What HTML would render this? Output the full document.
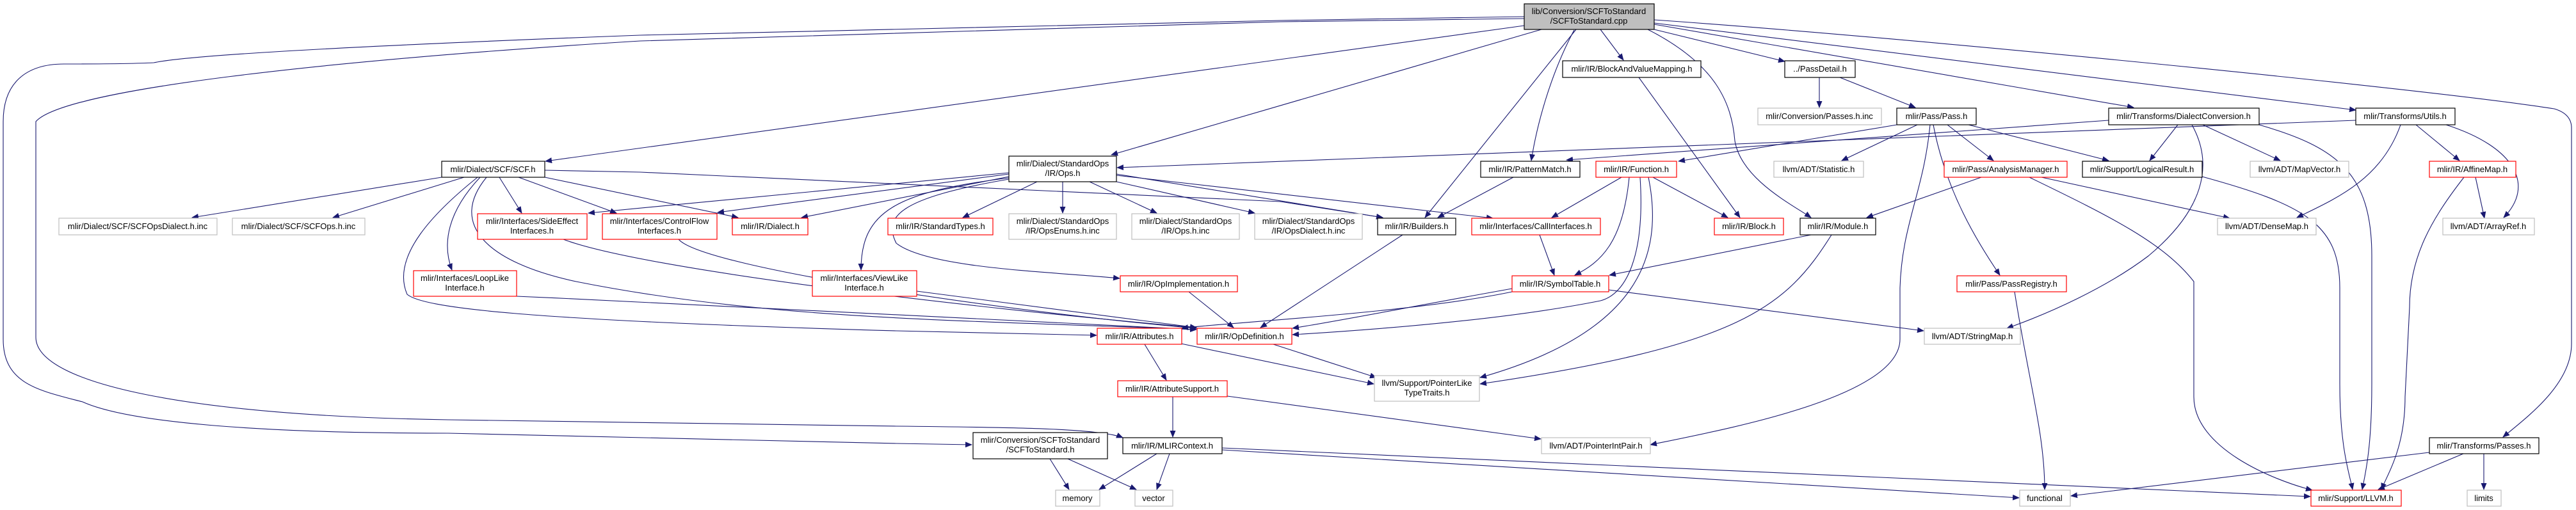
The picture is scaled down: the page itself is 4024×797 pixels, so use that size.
<!DOCTYPE html>
<html><head><meta charset="utf-8">
<style>
html,body{margin:0;padding:0;background:#fff;}
svg{display:block;}
text{font-family:"Liberation Sans",sans-serif;font-size:13px;fill:#000;}
.b{fill:#fff;stroke:#000;stroke-width:1.2;}
.r{fill:#fff;stroke:#ff0000;stroke-width:1.2;}
.g{fill:#fff;stroke:#bfbfbf;stroke-width:1.2;}
.rt{fill:#bfbfbf;stroke:#000;stroke-width:1.2;}
.e{fill:none;stroke:#191970;stroke-width:1.1;marker-end:url(#a);}
</style></head><body>
<svg width="4024" height="797" viewBox="0 0 4024 797" xmlns="http://www.w3.org/2000/svg">
<defs><marker id="a" markerUnits="userSpaceOnUse" markerWidth="12" markerHeight="9" refX="10" refY="4.5" orient="auto"><path d="M0,0 L11,4.5 L0,9 z" fill="#191970"/></marker></defs>

<!-- edges -->
<g>
<path class="e" d="M2381,40 L852,252"/>
<path class="e" d="M2408,46 L1736,242"/>
<path class="e" d="M2381,26 L2000,32 L1000,55 C600,70 300,85 240,98 C200,100 120,100 100,100 C40,100 5,130 5,190 L5,530 C5,600 60,610 129,628 C200,660 400,677 700,677 L1400,693 L1518,695"/>
<path class="e" d="M2381,29 L2000,34 L1000,64 C500,95 100,140 56,190 L56,527 C56,600 300,650 700,656 L1400,666 C1600,668 1720,670 1754,684"/>
<path class="e" d="M2462,46 L2226,340"/>
<path class="e" d="M2459,47 C2420,120 2400,200 2392,251"/>
<path class="e" d="M2500,46 L2536,94"/>
<path class="e" d="M2574,46 C2680,100 2705,160 2710,220 C2720,280 2800,320 2829,340"/>
<path class="e" d="M2584,46 L2788,96"/>
<path class="e" d="M2584,38 L3333,168"/>
<path class="e" d="M2584,36 L3680,172"/>
<path class="e" d="M2584,31 C3000,60 3800,140 3990,170 Q4017,178 4017,200 L4017,537 C4017,600 3950,650 3910,683"/>

<path class="e" d="M2191,367 L1969,512"/>
<path class="e" d="M2364,277 L2246,340"/>
<path class="e" d="M2560,121 L2718,340"/>
<path class="e" d="M2842,121 L2842,168"/>
<path class="e" d="M2874,121 L2992,168"/>
<path class="e" d="M2963,195 L2622,252"/>
<path class="e" d="M2995,195 L2877,251"/>
<path class="e" d="M3042,195 L3114,251"/>
<path class="e" d="M3075,195 L3294,251"/>
<path class="e" d="M3020,195 C3040,300 3090,380 3124,430"/>
<path class="e" d="M3015,195 C3005,300 2971,350 2968,450 L2968,530 C2968,620 2700,670 2578,695"/>
<path class="e" d="M3294,188 L2447,250"/>
<path class="e" d="M3680,188 L1745,262"/>
<path class="e" d="M3402,195 L3358,251"/>
<path class="e" d="M3441,195 L3562,251"/>
<path class="e" d="M3424,195 C3460,260 3440,330 3356,400 C3290,450 3200,490 3135,513"/>
<path class="e" d="M3529,195 C3650,230 3705,270 3705,400 L3705,600 C3705,700 3695,740 3690,765"/>
<path class="e" d="M3440,276 C3600,320 3655,350 3655,450 L3655,600 C3655,700 3670,740 3675,765"/>
<path class="e" d="M3170,277 C3300,340 3380,380 3427,440 L3427,620 C3427,700 3550,750 3612,766"/>
<path class="e" d="M3095,277 L2916,340"/>
<path class="e" d="M3189,277 L3483,341"/>
<path class="e" d="M3750,195 C3720,280 3650,310 3588,340"/>
<path class="e" d="M3774,195 L3842,251"/>
<path class="e" d="M3821,195 C3930,230 3960,290 3911,340"/>
<path class="e" d="M3867,277 L3881,341"/>
<path class="e" d="M3849,277 C3800,340 3764,400 3764,480 L3757,620 C3757,700 3730,740 3720,765"/>
<path class="e" d="M3795,707 L3235,775"/>
<path class="e" d="M3848,709 L3715,765"/>
<path class="e" d="M3880,709 L3880,765"/>
<path class="e" d="M3147,456 C3170,600 3194,680 3194,765"/>

<path class="e" d="M1909,700 L3609,776"/>
<path class="e" d="M1909,703 L3154,778"/>
<path class="e" d="M1807,709 L1717,765"/>
<path class="e" d="M1827,709 L1807,765"/>
<path class="e" d="M1640,717 L1670,765"/>
<path class="e" d="M1668,717 L1775,765"/>
<path class="e" d="M1832,620 L1832,683"/>
<path class="e" d="M1917,619 L2407,686"/>
<path class="e" d="M1788,538 L1822,594"/>
<path class="e" d="M1845,537 L2146,600"/>
<path class="e" d="M1989,538 L2150,590"/>
<path class="e" d="M1857,456 L1927,512"/>
<path class="e" d="M2362,451 C2200,480 2100,500 2019,513"/>
<path class="e" d="M2362,456 C2200,490 1900,505 1846,513"/>
<path class="e" d="M2562,277 C2570,400 2540,460 2500,470 C2350,500 2150,515 2019,523"/>
<path class="e" d="M2545,277 C2535,380 2500,410 2460,430"/>
<path class="e" d="M2533,277 L2424,340"/>
<path class="e" d="M2582,277 L2699,340"/>
<path class="e" d="M2575,277 C2600,400 2560,520 2312,590"/>
<path class="e" d="M2405,367 L2428,430"/>
<path class="e" d="M2829,367 L2514,430"/>
<path class="e" d="M2861,367 C2790,480 2720,540 2312,600"/>
<path class="e" d="M2513,453 L3005,517"/>

<path class="e" d="M1576,270 L919,333"/>
<path class="e" d="M1576,272 L1121,332"/>
<path class="e" d="M1576,276 L1252,340"/>
<path class="e" d="M1620,284 L1504,340"/>
<path class="e" d="M1660,284 L1660,333"/>
<path class="e" d="M1702,284 L1807,333"/>
<path class="e" d="M1744,284 L1960,333"/>
<path class="e" d="M1576,278 C1400,300 1345,330 1345,422"/>
<path class="e" d="M1576,280 C1400,310 1380,340 1400,380 C1450,420 1650,425 1749,435"/>
<path class="e" d="M1744,272 L2160,340"/>
<path class="e" d="M1744,274 L2332,341"/>

<path class="e" d="M690,277 L300,340"/>
<path class="e" d="M725,277 L520,340"/>
<path class="e" d="M780,277 L815,333"/>
<path class="e" d="M810,277 L963,333"/>
<path class="e" d="M851,277 L1153,340"/>
<path class="e" d="M851,266 L1000,269 L2000,315 L2160,340"/>
<path class="e" d="M750,277 C700,330 690,380 706,422"/>
<path class="e" d="M746,277 C680,330 610,400 636,460 C660,480 800,500 1400,517 L1713,524"/>
<path class="e" d="M760,277 C700,350 760,410 900,440 C1200,500 1500,500 1869,515"/>
<path class="e" d="M807,463 C1200,480 1600,500 1869,515"/>
<path class="e" d="M1432,455 L1869,512"/>
<path class="e" d="M880,374 C1000,420 1500,480 1869,512"/>
<path class="e" d="M1060,374 C1100,420 1600,490 1869,513"/>
</g>

<!-- nodes -->
<g text-anchor="middle">
<rect class="rt" x="2381" y="6" width="203" height="40"/><text x="2482" y="22">lib/Conversion/SCFToStandard</text><text x="2482" y="37">/SCFToStandard.cpp</text>
<rect class="b" x="690" y="252" width="161" height="25"/><text x="770" y="269">mlir/Dialect/SCF/SCF.h</text>
<rect class="g" x="92" y="341" width="247" height="26"/><text x="215" y="358">mlir/Dialect/SCF/SCFOpsDialect.h.inc</text>
<rect class="g" x="363" y="341" width="207" height="26"/><text x="466" y="358">mlir/Dialect/SCF/SCFOps.h.inc</text>
<rect class="r" x="746" y="334" width="171" height="40"/><text x="831" y="350">mlir/Interfaces/SideEffect</text><text x="831" y="365">Interfaces.h</text>
<rect class="r" x="941" y="334" width="179" height="40"/><text x="1030" y="350">mlir/Interfaces/ControlFlow</text><text x="1030" y="365">Interfaces.h</text>
<rect class="r" x="1144" y="341" width="118" height="26"/><text x="1203" y="358">mlir/IR/Dialect.h</text>
<rect class="r" x="1387" y="341" width="164" height="26"/><text x="1469" y="358">mlir/IR/StandardTypes.h</text>
<rect class="b" x="1576" y="244" width="168" height="40"/><text x="1660" y="260">mlir/Dialect/StandardOps</text><text x="1660" y="275">/IR/Ops.h</text>
<rect class="g" x="1576" y="334" width="168" height="40"/><text x="1660" y="350">mlir/Dialect/StandardOps</text><text x="1660" y="365">/IR/OpsEnums.h.inc</text>
<rect class="g" x="1768" y="334" width="168" height="40"/><text x="1852" y="350">mlir/Dialect/StandardOps</text><text x="1852" y="365">/IR/Ops.h.inc</text>
<rect class="g" x="1960" y="334" width="168" height="40"/><text x="2044" y="350">mlir/Dialect/StandardOps</text><text x="2044" y="365">/IR/OpsDialect.h.inc</text>
<rect class="r" x="646" y="423" width="161" height="40"/><text x="726" y="439">mlir/Interfaces/LoopLike</text><text x="726" y="454">Interface.h</text>
<rect class="r" x="1269" y="423" width="163" height="40"/><text x="1350" y="439">mlir/Interfaces/ViewLike</text><text x="1350" y="454">Interface.h</text>
<rect class="r" x="1750" y="431" width="183" height="25"/><text x="1841" y="448">mlir/IR/OpImplementation.h</text>
<rect class="r" x="1714" y="513" width="132" height="25"/><text x="1780" y="530">mlir/IR/Attributes.h</text>
<rect class="r" x="1870" y="513" width="148" height="25"/><text x="1944" y="530">mlir/IR/OpDefinition.h</text>
<rect class="r" x="1746" y="595" width="171" height="25"/><text x="1831" y="612">mlir/IR/AttributeSupport.h</text>
<rect class="b" x="1520" y="676" width="210" height="41"/><text x="1625" y="692">mlir/Conversion/SCFToStandard</text><text x="1625" y="707">/SCFToStandard.h</text>
<rect class="b" x="1754" y="684" width="155" height="25"/><text x="1831" y="701">mlir/IR/MLIRContext.h</text>
<rect class="g" x="1649" y="766" width="69" height="25"/><text x="1683" y="783">memory</text>
<rect class="g" x="1773" y="766" width="59" height="25"/><text x="1802" y="783">vector</text>
<rect class="b" x="2441" y="95" width="216" height="26"/><text x="2549" y="112">mlir/IR/BlockAndValueMapping.h</text>
<rect class="b" x="2788" y="95" width="110" height="26"/><text x="2843" y="112">../PassDetail.h</text>
<rect class="g" x="2746" y="169" width="193" height="26"/><text x="2842" y="186">mlir/Conversion/Passes.h.inc</text>
<rect class="b" x="2963" y="169" width="124" height="26"/><text x="3025" y="186">mlir/Pass/Pass.h</text>
<rect class="b" x="2313" y="252" width="155" height="25"/><text x="2390" y="269">mlir/IR/PatternMatch.h</text>
<rect class="r" x="2493" y="252" width="126" height="25"/><text x="2556" y="269">mlir/IR/Function.h</text>
<rect class="g" x="2771" y="252" width="140" height="25"/><text x="2841" y="269">llvm/ADT/Statistic.h</text>
<rect class="b" x="2152" y="341" width="122" height="26"/><text x="2213" y="358">mlir/IR/Builders.h</text>
<rect class="r" x="2299" y="341" width="201" height="26"/><text x="2399" y="358">mlir/Interfaces/CallInterfaces.h</text>
<rect class="r" x="2678" y="341" width="108" height="26"/><text x="2732" y="358">mlir/IR/Block.h</text>
<rect class="b" x="2812" y="341" width="118" height="26"/><text x="2871" y="358">mlir/IR/Module.h</text>
<rect class="b" x="3294" y="169" width="235" height="26"/><text x="3411" y="186">mlir/Transforms/DialectConversion.h</text>
<rect class="b" x="3680" y="169" width="155" height="26"/><text x="3757" y="186">mlir/Transforms/Utils.h</text>
<rect class="r" x="3037" y="252" width="192" height="25"/><text x="3133" y="269">mlir/Pass/AnalysisManager.h</text>
<rect class="b" x="3253" y="252" width="187" height="25"/><text x="3346" y="269">mlir/Support/LogicalResult.h</text>
<rect class="g" x="3515" y="252" width="154" height="25"/><text x="3592" y="269">llvm/ADT/MapVector.h</text>
<rect class="r" x="3795" y="252" width="135" height="25"/><text x="3862" y="269">mlir/IR/AffineMap.h</text>
<rect class="g" x="3464" y="341" width="154" height="26"/><text x="3541" y="358">llvm/ADT/DenseMap.h</text>
<rect class="g" x="3816" y="341" width="143" height="26"/><text x="3887" y="358">llvm/ADT/ArrayRef.h</text>
<rect class="r" x="2362" y="431" width="151" height="25"/><text x="2437" y="448">mlir/IR/SymbolTable.h</text>
<rect class="r" x="3057" y="431" width="171" height="25"/><text x="3142" y="448">mlir/Pass/PassRegistry.h</text>
<rect class="g" x="3006" y="513" width="150" height="25"/><text x="3081" y="530">llvm/ADT/StringMap.h</text>
<rect class="g" x="2147" y="587" width="164" height="40"/><text x="2229" y="603">llvm/Support/PointerLike</text><text x="2229" y="618">TypeTraits.h</text>
<rect class="g" x="2408" y="684" width="170" height="25"/><text x="2493" y="701">llvm/ADT/PointerIntPair.h</text>
<rect class="g" x="3155" y="766" width="79" height="25"/><text x="3194" y="783">functional</text>
<rect class="r" x="3610" y="766" width="141" height="25"/><text x="3680" y="783">mlir/Support/LLVM.h</text>
<rect class="g" x="3854" y="766" width="53" height="25"/><text x="3880" y="783">limits</text>
<rect class="b" x="3795" y="684" width="171" height="25"/><text x="3880" y="701">mlir/Transforms/Passes.h</text>
</g>
</svg>
</body></html>
